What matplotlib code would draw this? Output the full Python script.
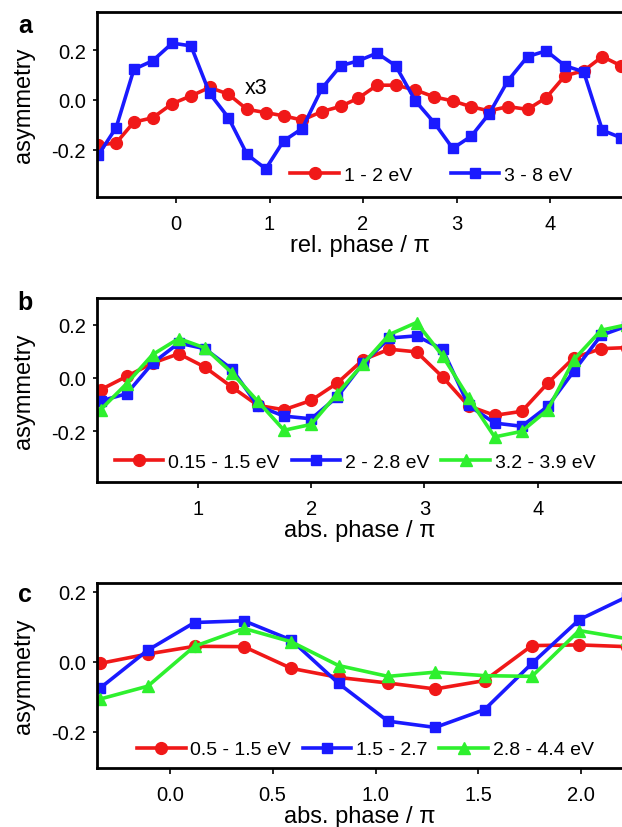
import matplotlib
matplotlib.use("Agg")
import matplotlib.pyplot as plt
from matplotlib.ticker import FormatStrFormatter

plt.rcParams["font.family"] = ["Liberation Sans", "DejaVu Sans"]
plt.rcParams["axes.unicode_minus"] = False

# panel a: relative phase
a_x = [-0.83, -0.64, -0.45, -0.25, -0.04, 0.16, 0.36, 0.56, 0.76, 0.96, 1.15, 1.35, 1.56, 1.76, 1.95,
       2.15, 2.35, 2.56, 2.76, 2.96, 3.16, 3.35, 3.55, 3.76, 3.96, 4.16, 4.36, 4.56, 4.76]
a_red = [-0.181, -0.173, -0.089, -0.072, -0.015, 0.016, 0.050, 0.023, -0.038, -0.051, -0.064, -0.081,
         -0.047, -0.026, 0.007, 0.059, 0.059, 0.040, 0.012, -0.004, -0.028, -0.044, -0.027, -0.038,
         0.009, 0.097, 0.117, 0.174, 0.137]
a_blue = [-0.221, -0.111, 0.123, 0.157, 0.228, 0.217, 0.026, -0.071, -0.219, -0.277, -0.165, -0.115,
          0.046, 0.137, 0.157, 0.188, 0.137, -0.004, -0.091, -0.195, -0.145, -0.055, 0.077, 0.174,
          0.197, 0.137, 0.113, -0.122, -0.152]
a_labels = ["1 - 2 eV", "3 - 8 eV"]

# panel b: absolute phase
b_x = [0.14, 0.37, 0.60, 0.83, 1.06, 1.30, 1.53, 1.76, 2.00, 2.23, 2.46, 2.69, 2.93, 3.16, 3.39,
       3.62, 3.86, 4.09, 4.32, 4.56, 4.79]
b_red = [-0.044, 0.006, 0.056, 0.091, 0.041, -0.034, -0.103, -0.119, -0.084, -0.019, 0.069, 0.108,
         0.098, 0.004, -0.105, -0.140, -0.125, -0.019, 0.076, 0.110, 0.114]
b_blue = [-0.086, -0.059, 0.056, 0.131, 0.110, 0.033, -0.105, -0.143, -0.153, -0.071, 0.056, 0.150,
          0.158, 0.108, -0.103, -0.169, -0.181, -0.106, 0.026, 0.160, 0.195]
b_green = [-0.119, -0.021, 0.088, 0.148, 0.113, 0.019, -0.088, -0.196, -0.174, -0.059, 0.054, 0.163,
           0.208, 0.083, -0.074, -0.221, -0.200, -0.119, 0.069, 0.179, 0.200]
b_labels = ["0.15 - 1.5 eV", "2 - 2.8 eV", "3.2 - 3.9 eV"]

# panel c
c_x = [-0.34, -0.107, 0.12, 0.36, 0.59, 0.82, 1.06, 1.29, 1.53, 1.76, 1.99, 2.22]
c_red = [-0.005, 0.022, 0.044, 0.043, -0.019, -0.045, -0.061, -0.078, -0.054, 0.046, 0.048, 0.043]
c_blue = [-0.076, 0.033, 0.112, 0.117, 0.062, -0.062, -0.170, -0.188, -0.137, -0.005, 0.120, 0.185]
c_green = [-0.107, -0.070, 0.044, 0.095, 0.057, -0.011, -0.042, -0.030, -0.040, -0.042, 0.089, 0.066]
c_labels = ["0.5 - 1.5 eV", "1.5 - 2.7", "2.8 - 4.4 eV"]

RED, BLUE, GREEN = "#f01818", "#1a1aff", "#2ef02e"
styles = [(RED, "o", 8.5), (BLUE, "s", 7.5), (GREEN, "^", 8.5)]

fig = plt.figure(figsize=(6.22, 8.28), dpi=100)
left, width = 97 / 622, 525 / 622
ax_a = fig.add_axes([left, 1 - 198 / 828, width, 185 / 828])
ax_b = fig.add_axes([left, 1 - 483 / 828, width, 184 / 828])
ax_c = fig.add_axes([left, 1 - 769 / 828, width, 185 / 828])

panels = [
    (ax_a, a_x, [a_red, a_blue], a_labels, (-0.845, 4.77), (-0.39, 0.353), [0, 1, 2, 3, 4],
     "%d", "rel. phase / \u03c0", "a", 0.892, (0.368, 0.12), 2.0),
    (ax_b, b_x, [b_red, b_blue, b_green], b_labels, (0.108, 4.745), (-0.39, 0.30), [1, 2, 3, 4],
     "%d", "abs. phase / \u03c0", "b", 0.94, (0.034, 0.11), 0.6),
    (ax_c, c_x, [c_red, c_blue, c_green], c_labels, (-0.354, 2.198), (-0.304, 0.225),
     [0.0, 0.5, 1.0, 1.5, 2.0], "%.1f", "abs. phase / \u03c0", "c", 0.903, (0.076, 0.10), 0.6),
]

for ax, xs, series, labels, xlim, ylim, xticks, xfmt, xlabel, tag, tag_y, anchor, colsp in panels:
    for ys, label, (color, marker, ms) in zip(series, labels, styles):
        ax.plot(xs, ys, color=color, marker=marker, markersize=ms, lw=2.6, label=label)
    ax.set_xlim(*xlim)
    ax.set_ylim(*ylim)
    ax.set_xticks(xticks)
    ax.set_yticks([-0.2, 0.0, 0.2])
    ax.xaxis.set_major_formatter(FormatStrFormatter(xfmt))
    ax.yaxis.set_major_formatter(FormatStrFormatter("%.1f"))
    ax.tick_params(axis="y", labelsize=14.5, length=3, width=1.2, pad=5)
    ax.tick_params(axis="x", labelsize=14.5, length=4, width=1.2, pad=8)
    for side in ["left", "bottom", "top"]:
        ax.spines[side].set_linewidth(2)
    ax.spines["right"].set_visible(False)
    ax.set_xlabel(xlabel, fontsize=17, labelpad=1)
    ax.set_ylabel("asymmetry", fontsize=17)
    ax.yaxis.set_label_coords(-0.118, 0.5)
    ax.text(-0.137, tag_y, tag, transform=ax.transAxes, fontsize=18, fontweight="bold",
            ha="center", va="baseline")
    ax.legend(loc="center left", bbox_to_anchor=anchor, ncol=len(labels), frameon=False,
              fontsize=14, handlelength=2.5, handletextpad=0.25, columnspacing=colsp,
              borderaxespad=0, borderpad=0)

ax_a.text(0.86, 0.05, "x3", fontsize=15.5, ha="center", va="center")

fig.savefig("out.png", dpi=100)
